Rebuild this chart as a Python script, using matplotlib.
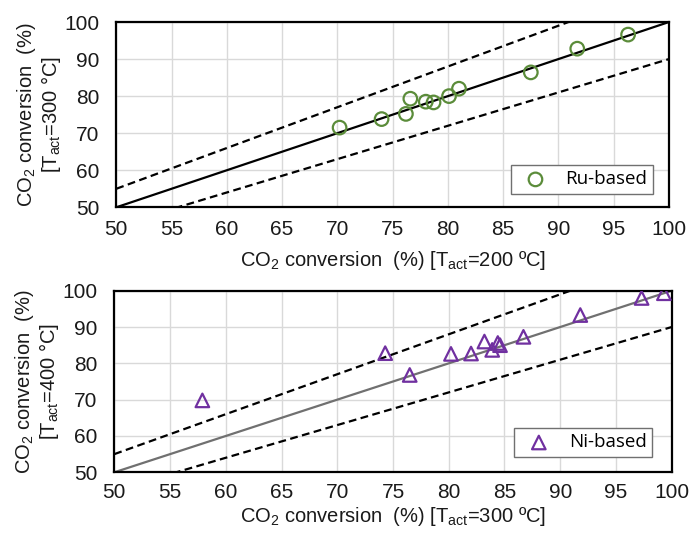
import matplotlib
matplotlib.use("Agg")
import matplotlib.pyplot as plt
import numpy as np

plt.rcParams['font.family'] = ['Liberation Sans', 'DejaVu Sans']
plt.rcParams['mathtext.default'] = 'regular'

# Ru-based catalysts: conversion after activation at 200 ºC vs 300 ºC
ru_x = [70.2, 74.0, 76.2, 76.6, 78.0, 78.7, 80.1, 81.0, 87.5, 91.7, 96.3]
ru_y = [71.5, 73.8, 75.2, 79.3, 78.5, 78.3, 80.0, 82.0, 86.4, 92.8, 96.6]

# Ni-based catalysts: conversion after activation at 300 ºC vs 400 ºC
ni_x = [57.9, 74.3, 76.5, 80.2, 82.0, 83.2, 83.9, 84.4, 84.6, 86.7, 91.8, 97.3, 99.3]
ni_y = [69.8, 82.8, 76.8, 82.6, 82.7, 86.0, 83.7, 85.6, 85.0, 87.3, 93.3, 98.0, 99.3]

ticks_x = [50, 55, 60, 65, 70, 75, 80, 85, 90, 95, 100]
ticks_y = [50, 60, 70, 80, 90, 100]

W, H = 689, 533
fig = plt.figure(figsize=(W / 100, H / 100), dpi=100)


def px_axes(left, right, top, bottom):
    return fig.add_axes([left / W, 1 - bottom / H, (right - left) / W, (bottom - top) / H])


ax1 = px_axes(116.3, 669.0, 22.0, 207.3)
ax2 = px_axes(114.3, 671.7, 290.7, 472.3)

panels = [
    (ax1, ru_x, ru_y, 'o', '#5b8c3a', 'Ru-based', 'black',
     'CO$_2$ conversion  (%) [T$_{act}$=200 ºC]',
     'CO$_2$ conversion  (%)\n[T$_{act}$=300 °C]', (0.971, 0.072), 9, 7),
    (ax2, ni_x, ni_y, '^', '#7030a0', 'Ni-based', '#707070',
     'CO$_2$ conversion  (%) [T$_{act}$=300 ºC]',
     'CO$_2$ conversion  (%)\n[T$_{act}$=400 °C]', (0.965, 0.084), 8, 2),
]

xx = np.array([50, 100])
for ax, x, y, mk, col, lab, parity_col, xl, yl, anchor, xpad, xlpad in panels:
    ax.set_xlim(50, 100)
    ax.set_ylim(50, 100)
    ax.set_xticks(ticks_x)
    ax.set_yticks(ticks_y)
    ax.grid(True, color='#d9d9d9', linewidth=1.0)
    ax.set_axisbelow(True)
    ax.plot(xx, xx, color=parity_col, linewidth=1.6, zorder=2)
    ax.plot(xx, 1.1 * xx, color='black', linestyle=(0, (3.5, 2)), linewidth=1.6, zorder=2)
    ax.plot(xx, 0.9 * xx, color='black', linestyle=(0, (3.5, 2)), linewidth=1.6, zorder=2)
    ax.scatter(x, y, marker=mk, s=95, facecolors='none', edgecolors=col,
               linewidths=1.6, zorder=3, label=lab)
    ax.tick_params(labelsize=15, length=0, labelcolor='#1a1a1a')
    ax.tick_params(axis='x', pad=xpad)
    ax.tick_params(axis='y', pad=12)
    for s in ax.spines.values():
        s.set_linewidth(1.6)
        s.set_color('black')
    ax.set_xlabel(xl, fontsize=14.5, labelpad=xlpad, color='#1a1a1a')
    ax.set_ylabel(yl, fontsize=14.5, labelpad=1, linespacing=1.05, color='#1a1a1a')
    leg = ax.legend(loc='lower right', bbox_to_anchor=anchor, borderaxespad=0,
                    prop={'family': 'Open Sans', 'size': 13.5},
                    frameon=True, fancybox=False, framealpha=1,
                    edgecolor='#707070', handletextpad=0.6, borderpad=0.3,
                    handlelength=2.0)
    leg.get_frame().set_linewidth(1.0)

fig.savefig('out.png', dpi=100)
